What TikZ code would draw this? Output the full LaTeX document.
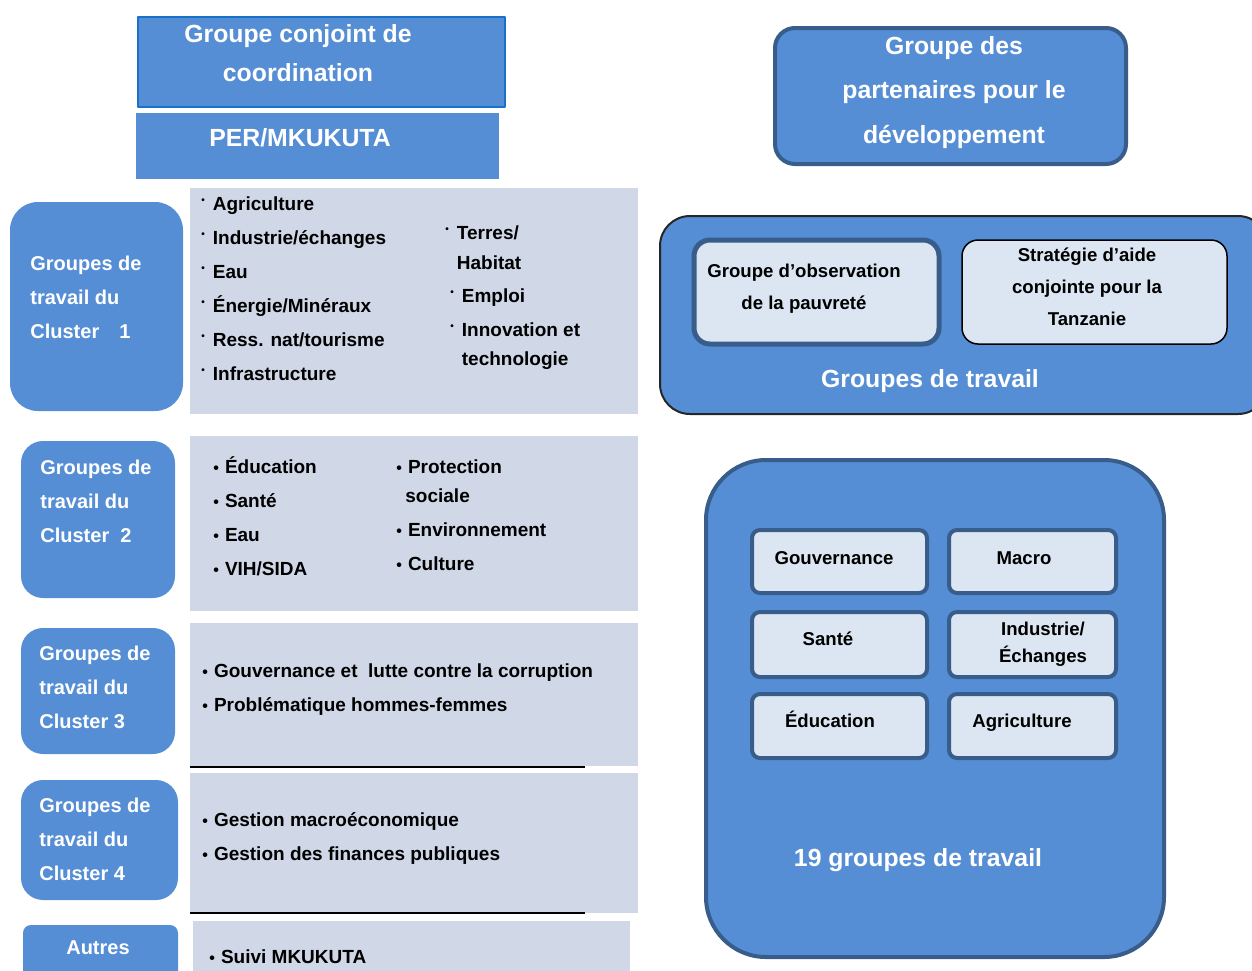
\documentclass[tikz,border=0pt]{standalone}
\usepackage{fontspec}
\setmainfont{Liberation Sans}
\definecolor{boxblue}{RGB}{85,142,213}
\definecolor{edgeblue}{RGB}{56,93,138}
\definecolor{brightblue}{RGB}{24,112,200}
\definecolor{paleblue}{RGB}{220,230,242}
\definecolor{panelgrey}{RGB}{208,216,232}
\newcommand{\bul}{{\footnotesize\textbullet}\hspace{3pt}}
\newcommand{\upbul}{\raisebox{.35em}{\tiny\textbullet}\hspace{4pt}}

\begin{document}
\begin{tikzpicture}[x=0.5pt,y=-0.5pt,line join=round,
  bluebox/.style={fill=boxblue,draw=edgeblue,line width=2pt},
  clusterbox/.style={fill=boxblue},
  panel/.style={fill=panelgrey},
  smallbox/.style={fill=paleblue,draw=edgeblue,line width=2pt,rounded corners=4pt},
  whitetitle/.style={text=white,font=\fontsize{12.4}{19.5}\selectfont\bfseries,align=center,anchor=base,inner sep=0pt},
  clusterlabel/.style={text=white,font=\fontsize{10}{17}\selectfont\bfseries,align=left,anchor=base west,inner sep=0pt},
  itemlist/.style={font=\fontsize{9.5}{17}\selectfont\bfseries,align=left,anchor=base west,inner sep=0pt},
  boxtext/.style={font=\fontsize{9.3}{16}\selectfont\bfseries,align=center,anchor=base,inner sep=0pt}]
  \useasboundingbox (0,0) rectangle (1252,970);

  % coordination (multi-line nodes sit on their last baseline)
  \draw[fill=boxblue,draw=brightblue,line width=1pt] (138,17) rectangle (505,107);
  \node[whitetitle] (jcg) at (298,81) {Groupe conjoint de\\coordination};
  \fill[boxblue] (136,113) rectangle (499,179);
  \node[whitetitle] (per) at (300,146) {PER/MKUKUTA};

  % cluster 1
  \fill[clusterbox,rounded corners=14pt] (10,202) rectangle (183,411);
  \fill[panel] (190,188) rectangle (638,414);
  \node[clusterlabel] (c1) at (30,338) {Groupes de\\travail du\\Cluster\quad 1};
  \node[itemlist] (c1a) at (201,380) {\upbul Agriculture\\\upbul Industrie/échanges\\\upbul Eau\\\upbul Énergie/Minéraux\\\upbul Ress. nat/tourisme\\\upbul Infrastructure};
  \node[itemlist,font=\fontsize{9.5}{15}\selectfont\bfseries] (c1b) at (445,269) {\upbul Terres/\\\hphantom{\upbul}Habitat};
  \node[itemlist] (c1c) at (450,365) {\upbul Emploi\\\upbul Innovation et\\[-2.5pt]\hphantom{\upbul}technologie};

  % cluster 2
  \fill[clusterbox,rounded corners=11pt] (21,441) rectangle (175,598);
  \fill[panel] (190,436) rectangle (638,611);
  \node[clusterlabel] (c2) at (40,542) {Groupes de\\travail du\\Cluster\ \ 2};
  \node[itemlist] (c2a) at (213,575) {\bul Éducation\\\bul Santé\\\bul Eau\\\bul VIH/SIDA};
  \node[itemlist] (c2b) at (396,570) {\bul Protection\\[-2.5pt]\hspace*{4.5pt}sociale\\\bul Environnement\\\bul Culture};

  % cluster 3
  \fill[clusterbox,rounded corners=11pt] (21,628) rectangle (175,754);
  \fill[panel] (190,623) rectangle (638,766);
  \draw[line width=0.6pt] (190,767) -- (585,767);
  \node[clusterlabel] (c3) at (39,728) {Groupes de\\travail du\\Cluster 3};
  \node[itemlist] (c3a) at (202,711) {\bul Gouvernance et\ \ lutte contre la corruption\\\bul Problématique hommes-femmes};

  % cluster 4
  \fill[clusterbox,rounded corners=11pt] (21,780) rectangle (178,900);
  \fill[panel] (190,773) rectangle (638,913);
  \draw[line width=0.6pt] (190,913) -- (585,913);
  \node[clusterlabel] (c4) at (39,880) {Groupes de\\travail du\\Cluster 4};
  \node[itemlist] (c4a) at (202,860) {\bul Gestion macroéconomique\\\bul Gestion des finances publiques};

  % others
  \fill[clusterbox,rounded corners=4pt] (23,925) rectangle (178,990);
  \fill[panel] (193,921) rectangle (630,990);
  \node[clusterlabel,anchor=base] (other) at (98,954) {Autres};
  \node[itemlist] (other1) at (209,963) {\bul Suivi MKUKUTA};

  % partners
  \draw[bluebox,rounded corners=10pt] (775,28) rectangle (1126,164);
  \node[whitetitle,font=\fontsize{12.4}{22.25}\selectfont\bfseries] (dpg) at (954,143) {Groupe des\\partenaires pour le\\développement};

  % working groups
  \draw[fill=boxblue,draw=black!85,line width=1pt,rounded corners=15pt] (660,216) rectangle (1268,414);
  \draw[smallbox,line width=2.5pt,rounded corners=8pt] (694,240) rectangle (939,344);
  \node[boxtext] (pmg) at (804,309) {Groupe d’observation\\de la pauvreté};
  \draw[fill=paleblue,draw=black,line width=0.75pt,rounded corners=8pt] (962,240) rectangle (1227,344);
  \node[boxtext] (jast) at (1087,325) {Stratégie d’aide\\conjointe pour la\\Tanzanie};
  \node[whitetitle] (wg) at (930,387) {Groupes de travail};

  % 19 groups
  \draw[bluebox,rounded corners=30pt] (706,460) rectangle (1164,957);
  \draw[smallbox] (752,530) rectangle (927,593);
  \draw[smallbox] (949,530) rectangle (1116,593);
  \draw[smallbox] (752,612) rectangle (927,677);
  \draw[smallbox] (949,612) rectangle (1116,677);
  \draw[smallbox] (752,694) rectangle (927,758);
  \draw[smallbox] (949,694) rectangle (1116,758);
  \node[boxtext] (gov) at (834,564) {Gouvernance};
  \node[boxtext] (macro) at (1024,564) {Macro};
  \node[boxtext] (health) at (828,645) {Santé};
  \node[boxtext,font=\fontsize{9.3}{13.5}\selectfont\bfseries] (trade) at (1043,662) {Industrie/\\Échanges};
  \node[boxtext] (edu) at (830,727) {Éducation};
  \node[boxtext] (agri) at (1022,727) {Agriculture};
  \node[whitetitle] (nwg) at (918,866) {19 groupes de travail};
\end{tikzpicture}
\end{document}
